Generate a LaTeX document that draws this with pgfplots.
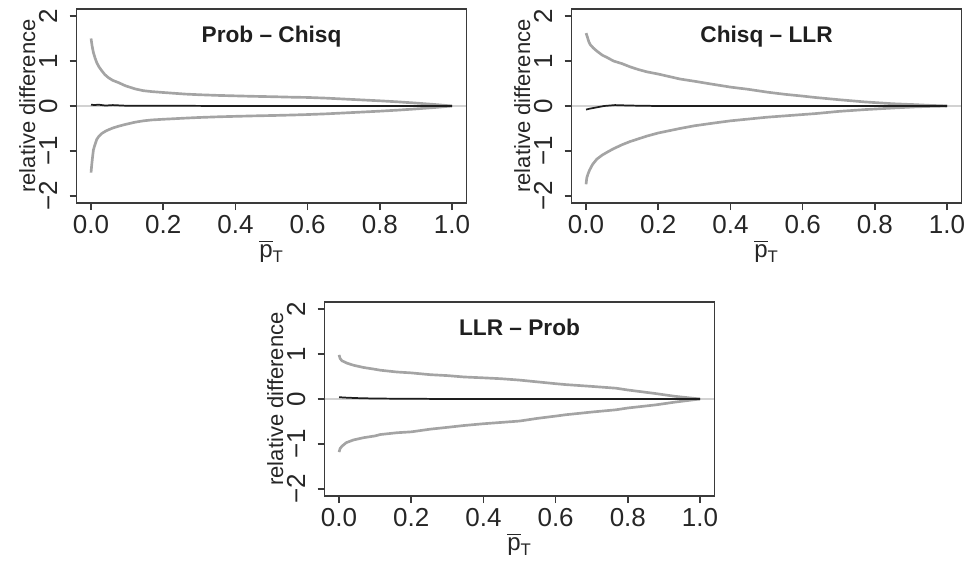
\documentclass[border=0pt]{standalone}
\usepackage{fontspec}
\setmainfont{Liberation Sans}
\usepackage{amsmath}
\usepackage{pgfplots}
\pgfplotsset{compat=1.18}

\definecolor{bandgray}{HTML}{A4A4A4}
\definecolor{refgray}{HTML}{D2D2D2}
\definecolor{framegray}{HTML}{3A3A3A}
\definecolor{diffblack}{HTML}{1E1E1E}

\pgfplotsset{
  diffpanel/.style={
    scale only axis,
    width=292.4pt, height=145.8pt,
    xmin=-0.04, xmax=1.04, ymin=-2.16, ymax=2.16,
    xtick={0,0.2,0.4,0.6,0.8,1}, xticklabels={0.0,0.2,0.4,0.6,0.8,1.0},
    ytick={-2,-1,0,1,2}, yticklabels={−2,−1,0,1,2},
    tick align=outside, major tick length=5.25pt,
    tick pos=left,
    axis line style={framegray, line width=1.2pt},
    tick style={framegray, line width=1.2pt},
    tick label style={font=\fontsize{19.5}{22}\selectfont, text=black!85},
    xticklabel style={anchor=base},
    xticklabel shift=17.25pt,
    yticklabel style={rotate=90, anchor=base},
    yticklabel shift=9.4pt,
  },
  band/.style={bandgray, line width=2pt, line join=round},
  mid/.style={diffblack, line width=1.3pt, line join=round},
  zero/.style={refgray, line width=0.8pt},
}
\newcommand{\paneltitle}[1]{\node[anchor=base, font=\bfseries\fontsize{17}{20}\selectfont, text=black!88] at (axis cs:0.5,1.42) {#1};}
\newcommand{\panellabels}[1]{%
  \node[rotate=90, anchor=base, font=\fontsize{16.5}{20}\selectfont, text=black!85] at ([xshift=-31.2pt]#1.west) {relative difference};
  \node[anchor=base, font=\fontsize{18}{20}\selectfont, text=black!85] at ([yshift=-40.5pt]#1.south) {$\overline{\text{p}}_{\text{T}}$};
}

\begin{document}
\begin{tikzpicture}
\path[use as bounding box] (0,0) rectangle (723pt,423pt);

% Prob - Chisq
\begin{axis}[diffpanel, name=pc, anchor=south west, at={(57.45pt,270.6pt)}]
\addplot[zero] coordinates {(-0.04,0) (1.04,0)};
\addplot[band] coordinates {
(0.000,1.50) (0.003,1.33) (0.0065,1.19) (0.011,1.07) (0.016,0.96) (0.022,0.87)
(0.030,0.78) (0.038,0.70) (0.048,0.63) (0.060,0.57) (0.076,0.52) (0.095,0.45)
(0.122,0.38) (0.145,0.34) (0.168,0.32) (0.20,0.30) (0.26,0.265) (0.30,0.25)
(0.353,0.235) (0.40,0.225) (0.45,0.215) (0.51,0.205) (0.56,0.195) (0.60,0.19)
(0.65,0.175) (0.70,0.155) (0.75,0.135) (0.80,0.115) (0.85,0.092) (0.90,0.065)
(0.95,0.035) (1.00,0.0)};
\addplot[band] coordinates {
(0.000,-1.48) (0.002,-1.30) (0.004,-1.15) (0.0065,-0.98) (0.010,-0.88) (0.016,-0.74)
(0.022,-0.67) (0.030,-0.61) (0.040,-0.56) (0.048,-0.53) (0.060,-0.49) (0.076,-0.45)
(0.095,-0.41) (0.122,-0.36) (0.145,-0.33) (0.168,-0.31) (0.20,-0.295) (0.26,-0.27)
(0.30,-0.255) (0.353,-0.24) (0.40,-0.23) (0.45,-0.22) (0.51,-0.21) (0.56,-0.20)
(0.60,-0.19) (0.65,-0.175) (0.70,-0.155) (0.75,-0.135) (0.80,-0.115) (0.85,-0.092)
(0.90,-0.065) (0.95,-0.035) (1.00,0.0)};
\addplot[mid] coordinates {
(0.000,0.03) (0.010,0.02) (0.020,0.03) (0.040,0.01) (0.060,0.02) (0.100,0.005)
(0.200,0.005) (0.400,0.0) (1.000,0.0)};
\paneltitle{Prob – Chisq}
\end{axis}
\panellabels{pc}

% Chisq - LLR
\begin{axis}[diffpanel, name=cl, anchor=south west, at={(428.7pt,270.6pt)}]
\addplot[zero] coordinates {(-0.04,0) (1.04,0)};
\addplot[band] coordinates {
(0.000,1.62) (0.003,1.55) (0.008,1.42) (0.012,1.36) (0.020,1.29) (0.030,1.22)
(0.045,1.13) (0.060,1.07) (0.076,1.00) (0.10,0.94) (0.122,0.87) (0.145,0.81)
(0.168,0.76) (0.20,0.71) (0.26,0.60) (0.30,0.55) (0.353,0.48) (0.40,0.42)
(0.45,0.37) (0.50,0.31) (0.55,0.26) (0.60,0.22) (0.634,0.19) (0.70,0.14)
(0.773,0.09) (0.85,0.05) (0.911,0.03) (0.95,0.015) (1.00,0.0)};
\addplot[band] coordinates {
(0.000,-1.74) (0.002,-1.60) (0.005,-1.52) (0.010,-1.42) (0.018,-1.30) (0.030,-1.18)
(0.045,-1.09) (0.060,-1.02) (0.076,-0.95) (0.10,-0.86) (0.122,-0.79) (0.145,-0.73)
(0.168,-0.67) (0.20,-0.60) (0.26,-0.50) (0.30,-0.44) (0.353,-0.38) (0.40,-0.33)
(0.45,-0.29) (0.50,-0.25) (0.55,-0.22) (0.60,-0.19) (0.634,-0.17) (0.70,-0.12)
(0.773,-0.08) (0.85,-0.045) (0.911,-0.02) (0.95,-0.01) (1.00,0.0)};
\addplot[mid] coordinates {
(0.000,-0.08) (0.010,-0.06) (0.030,-0.03) (0.050,0.0) (0.080,0.02) (0.120,0.01)
(0.200,0.0) (1.000,0.0)};
\paneltitle{Chisq – LLR}
\end{axis}
\panellabels{cl}

% LLR - Prob
\begin{axis}[diffpanel, name=lp, anchor=south west, at={(243.45pt,50.85pt)}]
\addplot[zero] coordinates {(-0.04,0) (1.04,0)};
\addplot[band] coordinates {
(0.000,0.98) (0.003,0.90) (0.008,0.85) (0.021,0.80) (0.040,0.75) (0.068,0.70)
(0.10,0.66) (0.114,0.64) (0.160,0.60) (0.20,0.58) (0.253,0.54) (0.30,0.52)
(0.345,0.49) (0.40,0.47) (0.45,0.45) (0.50,0.42) (0.55,0.38) (0.60,0.34)
(0.628,0.32) (0.70,0.28) (0.767,0.24) (0.80,0.20) (0.878,0.12) (0.93,0.06)
(1.00,0.0)};
\addplot[band] coordinates {
(0.000,-1.18) (0.003,-1.10) (0.008,-1.05) (0.020,-0.97) (0.040,-0.91) (0.068,-0.86)
(0.10,-0.82) (0.114,-0.79) (0.160,-0.75) (0.20,-0.73) (0.253,-0.67) (0.30,-0.63)
(0.345,-0.59) (0.40,-0.55) (0.45,-0.52) (0.50,-0.49) (0.55,-0.43) (0.60,-0.38)
(0.628,-0.35) (0.70,-0.29) (0.767,-0.24) (0.80,-0.20) (0.878,-0.13) (0.93,-0.07)
(1.00,0.0)};
\addplot[mid] coordinates {
(0.000,0.04) (0.020,0.03) (0.050,0.02) (0.100,0.01) (0.300,0.0) (1.000,0.0)};
\paneltitle{LLR – Prob}
\end{axis}
\panellabels{lp}
\end{tikzpicture}
\end{document}
